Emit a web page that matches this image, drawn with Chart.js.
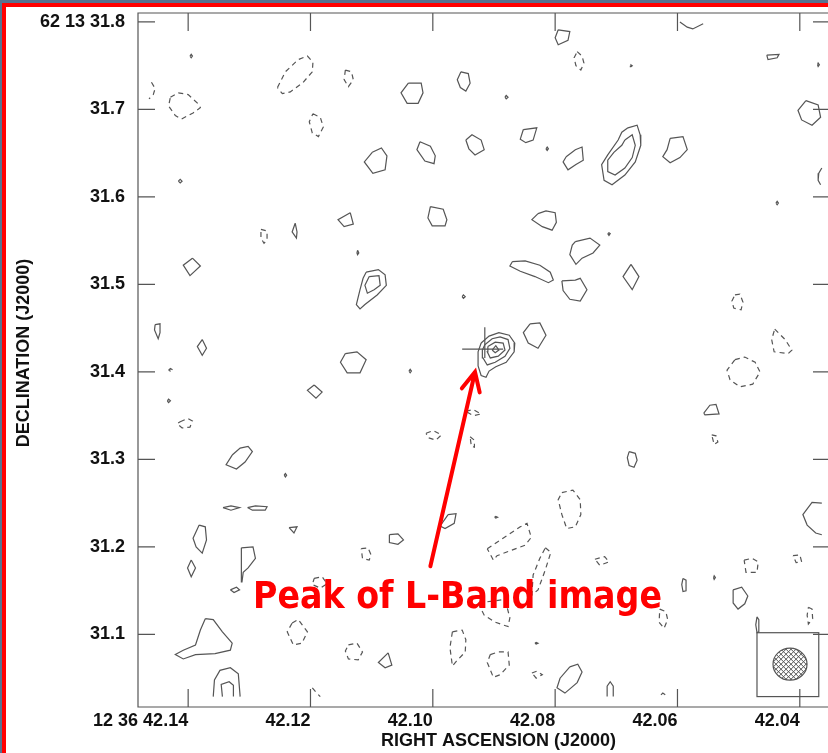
<!DOCTYPE html>
<html lang="en">

<head>
    <meta charset="UTF-8">
    <title>L-Band peak contour map</title>
    <style>
        body {
            margin: 0;
            overflow: hidden;
            background: #fff;
        }

        .frame {
            position: absolute;
            left: 0;
            top: 0;
            border-top: 3px solid #56728f;
            border-left: 2px solid #56728f;
        }

        .inner {
            border-top: 4px solid #ff0000;
            border-left: 4px solid #ff0000;
            width: 830px;
            height: 746px;
        }
    </style>
    <script src="https://cdn.jsdelivr.net/npm/chart.js"></script>
</head>

<body>
    <div class="frame">
        <div class="inner">
            <canvas id="map" width="830" height="746"></canvas>
        </div>
    </div>

    <script>
        // axes: RA in seconds of time (12h36m..), Dec in arcsec (62d13'..)
        const raMin = 42.0349, raMax = 42.1482;
        const decMin = 31.0171, decMax = 31.8102;
        const raTicks = [42.14, 42.12, 42.10, 42.08, 42.06, 42.04];
        const raTickLabels = ['12 36 42.14', '42.12', '42.10', '42.08', '42.06', '42.04'];
        const decTicks = [31.1, 31.2, 31.3, 31.4, 31.5, 31.6, 31.7, 31.8];
        const decTickLabels = ['31.1', '31.2', '31.3', '31.4', '31.5', '31.6', '31.7', '62 13 31.8'];
        const xTitle = 'RIGHT ASCENSION (J2000)';
        const yTitle = 'DECLINATION (J2000)';

        // positive contours, closed  [RA, Dec]
        const posContours = [
            [[42.1397,31.761],[42.1395,31.763],[42.1393,31.761],[42.1395,31.759]],
            [[42.1416,31.618],[42.1413,31.620],[42.1410,31.618],[42.1413,31.616]],
            [[42.1040,31.730],[42.1019,31.730],[42.1016,31.719],[42.1024,31.707],[42.1042,31.707],[42.1052,31.719]],
            [[42.0954,31.743],[42.0942,31.741],[42.0939,31.730],[42.0946,31.721],[42.0955,31.725],[42.0960,31.734]],
            [[42.0882,31.714],[42.0880,31.716],[42.0877,31.714],[42.0880,31.712]],
            [[42.1099,31.651],[42.1084,31.656],[42.1075,31.647],[42.1078,31.631],[42.1098,31.627],[42.1112,31.640]],
            [[42.1021,31.663],[42.1004,31.658],[42.0996,31.647],[42.0998,31.638],[42.1013,31.641],[42.1026,31.654]],
            [[42.0946,31.665],[42.0936,31.671],[42.0921,31.665],[42.0916,31.654],[42.0931,31.648],[42.0941,31.655]],
            [[42.0852,31.677],[42.0830,31.679],[42.0836,31.665],[42.0848,31.662],[42.0857,31.666]],
            [[42.0815,31.655],[42.0813,31.657],[42.0811,31.655],[42.0813,31.653]],
            [[42.0795,31.791],[42.0776,31.789],[42.0779,31.779],[42.0795,31.774],[42.0800,31.782]],
            [[42.0782,31.646],[42.0767,31.654],[42.0756,31.657],[42.0754,31.642],[42.0766,31.637],[42.0779,31.631],[42.0787,31.640]],
            [[42.0681,31.679],[42.0666,31.682],[42.0661,31.671],[42.0660,31.659],[42.0669,31.640],[42.0686,31.625],[42.0707,31.614],[42.0720,31.619],[42.0724,31.637],[42.0714,31.648],[42.0697,31.665],[42.0691,31.674]],
            [[42.0686,31.665],[42.0674,31.671],[42.0669,31.659],[42.0674,31.645],[42.0686,31.633],[42.0702,31.625],[42.0714,31.629],[42.0714,31.642],[42.0704,31.651],[42.0691,31.659]],
            [[42.0612,31.667],[42.0591,31.669],[42.0584,31.654],[42.0596,31.645],[42.0612,31.639],[42.0624,31.646],[42.0617,31.654]],
            [[42.1004,31.589],[42.0983,31.586],[42.0977,31.574],[42.0980,31.567],[42.1001,31.567],[42.1008,31.576]],
            [[42.0828,31.581],[42.0815,31.584],[42.0800,31.582],[42.0798,31.571],[42.0805,31.562],[42.0821,31.566],[42.0838,31.574]],
            [[42.0714,31.558],[42.0712,31.559],[42.0710,31.558],[42.0712,31.556]],
            [[42.0767,31.549],[42.0743,31.553],[42.0727,31.545],[42.0738,31.536],[42.0756,31.530],[42.0766,31.523],[42.0776,31.534],[42.0772,31.545]],
            [[42.0870,31.526],[42.0849,31.527],[42.0825,31.522],[42.0808,31.514],[42.0803,31.505],[42.0811,31.502],[42.0833,31.509],[42.0857,31.515],[42.0874,31.521]],
            [[42.0789,31.504],[42.0767,31.505],[42.0759,31.507],[42.0748,31.494],[42.0759,31.481],[42.0776,31.483],[42.0787,31.493]],
            [[42.0676,31.523],[42.0663,31.509],[42.0674,31.494],[42.0689,31.509]],
            [[42.0952,31.486],[42.0950,31.488],[42.0947,31.486],[42.0950,31.484]],
            [[42.1225,31.570],[42.1222,31.560],[42.1223,31.553],[42.1230,31.560]],
            [[42.1135,31.582],[42.1130,31.569],[42.1145,31.566],[42.1155,31.574]],
            [[42.1123,31.539],[42.1121,31.536],[42.1123,31.534],[42.1124,31.536]],
            [[42.1393,31.530],[42.1380,31.521],[42.1397,31.510],[42.1408,31.522]],
            [[42.1109,31.514],[42.1089,31.517],[42.1078,31.511],[42.1076,31.499],[42.1091,31.488],[42.1111,31.477],[42.1119,31.472],[42.1125,31.477],[42.1119,31.494],[42.1114,31.507]],
            [[42.1104,31.509],[42.1088,31.510],[42.1086,31.499],[42.1096,31.494],[42.1107,31.490],[42.1111,31.499]],
            [[42.1454,31.454],[42.1446,31.455],[42.1446,31.445],[42.1449,31.438],[42.1455,31.448]],
            [[42.1377,31.437],[42.1370,31.427],[42.1377,31.419],[42.1385,31.429]],
            [[42.1143,31.421],[42.1124,31.423],[42.1109,31.414],[42.1119,31.399],[42.1140,31.399],[42.1151,31.411]],
            [[42.1194,31.385],[42.1181,31.377],[42.1191,31.370],[42.1205,31.379]],
            [[42.1434,31.367],[42.1432,31.369],[42.1429,31.367],[42.1432,31.365]],
            [[42.1328,31.305],[42.1315,31.313],[42.1302,31.315],[42.1295,31.309],[42.1307,31.297],[42.1321,31.289],[42.1338,31.294]],
            [[42.1243,31.282],[42.1241,31.284],[42.1239,31.282],[42.1241,31.280]],
            [[42.1343,31.245],[42.1330,31.247],[42.1316,31.245],[42.1330,31.242]],
            [[42.1303,31.245],[42.1290,31.247],[42.1271,31.246],[42.1274,31.242],[42.1295,31.242]],
            [[42.1235,31.222],[42.1222,31.223],[42.1227,31.216]],
            [[42.1382,31.225],[42.1372,31.223],[42.1370,31.208],[42.1377,31.193],[42.1387,31.200],[42.1392,31.210]],
            [[42.1313,31.199],[42.1294,31.200],[42.1290,31.187],[42.1302,31.176],[42.1310,31.171],[42.1312,31.160]],
            [[42.1395,31.185],[42.1388,31.176],[42.1395,31.166],[42.1401,31.176]],
            [[42.1331,31.151],[42.1321,31.154],[42.1316,31.151],[42.1325,31.148]],
            [[42.1071,31.214],[42.1057,31.215],[42.1048,31.208],[42.1057,31.203],[42.1071,31.205]],
            [[42.1372,31.118],[42.1359,31.117],[42.1344,31.103],[42.1328,31.090],[42.1331,31.082],[42.1356,31.078],[42.1388,31.077],[42.1408,31.072],[42.1421,31.077],[42.1408,31.082],[42.1388,31.088],[42.1380,31.105]],
            [[42.1073,31.079],[42.1067,31.065],[42.1078,31.062],[42.1089,31.068]],
            // the L-band peak
            [[42.0921,31.433],[42.0908,31.441],[42.0892,31.445],[42.0875,31.442],[42.0866,31.433],[42.0867,31.423],[42.0880,31.411],[42.0897,31.406],[42.0908,31.401],[42.0913,31.394],[42.0921,31.396],[42.0926,31.407],[42.0926,31.423]],
            [[42.0915,31.431],[42.0903,31.438],[42.0890,31.440],[42.0877,31.437],[42.0874,31.427],[42.0882,31.418],[42.0898,31.411],[42.0911,31.408],[42.0918,31.416],[42.0919,31.425]],
            [[42.0910,31.429],[42.0898,31.434],[42.0885,31.433],[42.0882,31.425],[42.0893,31.418],[42.0906,31.416],[42.0911,31.423]],
            [[42.0903,31.425],[42.0897,31.430],[42.0892,31.425],[42.0898,31.422]],
            [[42.0841,31.455],[42.0825,31.456],[42.0815,31.442],[42.0828,31.427],[42.0844,31.433],[42.0852,31.445]],
            [[42.1039,31.401],[42.1037,31.403],[42.1035,31.401],[42.1037,31.399]],
            [[42.0679,31.309],[42.0669,31.307],[42.0666,31.299],[42.0671,31.291],[42.0679,31.293],[42.0682,31.302]],
            [[42.0975,31.237],[42.0962,31.238],[42.0965,31.227],[42.0980,31.221],[42.0988,31.224]],
            [[42.0899,31.234],[42.0897,31.235],[42.0894,31.234],[42.0897,31.233]],
            [[42.0591,31.164],[42.0586,31.162],[42.0586,31.150],[42.0591,31.149],[42.0593,31.157]],
            [[42.0541,31.165],[42.0540,31.167],[42.0538,31.165],[42.0540,31.163]],
            [[42.0776,31.063],[42.0763,31.066],[42.0756,31.057],[42.0764,31.045],[42.0784,31.033],[42.0797,31.039],[42.0792,31.050]],
            [[42.0833,31.090],[42.0831,31.091],[42.0828,31.090],[42.0831,31.089]],
            [[42.0557,31.353],[42.0547,31.362],[42.0537,31.363],[42.0532,31.352],[42.0555,31.351]],
            [[42.0439,31.593],[42.0437,31.595],[42.0435,31.593],[42.0437,31.591]],
            [[42.0509,31.151],[42.0495,31.154],[42.0485,31.144],[42.0490,31.135],[42.0501,31.129],[42.0509,31.136]],
            [[42.0454,31.762],[42.0434,31.763],[42.0437,31.759],[42.0452,31.757]],
            [[42.0371,31.751],[42.0370,31.753],[42.0368,31.751],[42.0370,31.749]],
            [[42.0677,31.750],[42.0676,31.751],[42.0674,31.750],[42.0676,31.749]],
            [[42.0390,31.710],[42.0370,31.705],[42.0366,31.691],[42.0380,31.682],[42.0397,31.688],[42.0403,31.699]],
            [[42.0470,31.120],[42.0467,31.117],[42.0467,31.103],[42.0470,31.102],[42.0472,31.111]]
        ];

        // positive contours cut by the image edge (open)
        const posEdges = [
            [[42.0596,31.800],[42.0584,31.794],[42.0575,31.792],[42.0558,31.798]],
            [[42.0364,31.250],[42.0380,31.251],[42.0395,31.237],[42.0388,31.225],[42.0374,31.216],[42.0364,31.214]],
            [[42.0364,31.633],[42.0369,31.627],[42.0370,31.619],[42.0366,31.614]],
            [[42.1359,31.029],[42.1357,31.048],[42.1348,31.059],[42.1331,31.062],[42.1318,31.055],[42.1315,31.029]],
            [[42.1344,31.029],[42.1346,31.043],[42.1333,31.046],[42.1326,31.042],[42.1326,31.029]],
            [[42.0715,31.029],[42.0715,31.041],[42.0710,31.046],[42.0705,31.041],[42.0705,31.029]],
            [[42.0627,31.031],[42.0624,31.033],[42.0620,31.031]]
        ];

        // negative contours, closed (dashed)
        const negContours = [
            [[42.1429,31.714],[42.1416,31.719],[42.1400,31.717],[42.1383,31.706],[42.1380,31.702],[42.1392,31.696],[42.1411,31.689],[42.1421,31.693],[42.1432,31.704]],
            [[42.1254,31.725],[42.1241,31.743],[42.1220,31.757],[42.1205,31.761],[42.1196,31.754],[42.1197,31.743],[42.1212,31.731],[42.1233,31.720],[42.1246,31.718]],
            [[42.1143,31.745],[42.1133,31.743],[42.1130,31.734],[42.1138,31.726],[42.1145,31.734]],
            [[42.1196,31.695],[42.1184,31.691],[42.1179,31.680],[42.1187,31.669],[42.1197,31.673],[42.1202,31.686]],
            [[42.0764,31.766],[42.0756,31.761],[42.0753,31.753],[42.0758,31.745],[42.0766,31.750],[42.0769,31.759]],
            [[42.1281,31.563],[42.1271,31.561],[42.1271,31.551],[42.1276,31.547],[42.1281,31.553]],
            [[42.1432,31.402],[42.1429,31.404],[42.1424,31.402],[42.1429,31.401]],
            [[42.1413,31.343],[42.1401,31.347],[42.1393,31.344],[42.1397,31.337],[42.1410,31.336],[42.1418,31.341]],
            [[42.1117,31.198],[42.1106,31.199],[42.1101,31.191],[42.1104,31.185],[42.1115,31.187]],
            [[42.1194,31.164],[42.1181,31.166],[42.1173,31.158],[42.1184,31.153],[42.1197,31.157]],
            [[42.1230,31.113],[42.1220,31.117],[42.1205,31.103],[42.1214,31.090],[42.1228,31.088],[42.1238,31.103]],
            [[42.1138,31.088],[42.1124,31.090],[42.1115,31.080],[42.1122,31.071],[42.1138,31.072],[42.1143,31.081]],
            [[42.1011,31.330],[42.0999,31.333],[42.0986,31.328],[42.0995,31.322],[42.1008,31.325]],
            [[42.0946,31.355],[42.0934,31.357],[42.0921,31.352],[42.0934,31.350]],
            [[42.0939,31.326],[42.0932,31.322],[42.0932,31.314],[42.0937,31.315]],
            [[42.0789,31.262],[42.0771,31.265],[42.0759,31.254],[42.0758,31.237],[42.0767,31.223],[42.0781,31.221],[42.0789,31.237],[42.0795,31.254]],
            [[42.0911,31.198],[42.0857,31.223],[42.0846,31.227],[42.0839,31.211],[42.0849,31.202],[42.0895,31.190],[42.0901,31.185]],
            [[42.0816,31.199],[42.0807,31.194],[42.0816,31.174],[42.0828,31.151],[42.0838,31.145],[42.0836,31.168],[42.0825,31.187]],
            [[42.0735,31.186],[42.0719,31.189],[42.0712,31.183],[42.0727,31.179]],
            [[42.0926,31.136],[42.0916,31.122],[42.0898,31.114],[42.0877,31.109],[42.0874,31.119],[42.0882,31.140]],
            [[42.0629,31.129],[42.0619,31.126],[42.0616,31.117],[42.0622,31.107],[42.0630,31.114]],
            [[42.0968,31.103],[42.0952,31.105],[42.0946,31.094],[42.0947,31.080],[42.0962,31.069],[42.0968,31.064],[42.0972,31.085]],
            [[42.0906,31.077],[42.0893,31.080],[42.0877,31.080],[42.0875,31.065],[42.0890,31.054],[42.0901,31.051],[42.0911,31.068]],
            [[42.0838,31.056],[42.0830,31.058],[42.0821,31.054],[42.0831,31.050]],
            [[42.0506,31.488],[42.0498,31.489],[42.0493,31.480],[42.0496,31.471],[42.0508,31.473],[42.0511,31.481]],
            [[42.0441,31.449],[42.0424,31.437],[42.0413,31.425],[42.0419,31.421],[42.0442,31.423],[42.0446,31.437]],
            [[42.0506,31.414],[42.0490,31.417],[42.0473,31.411],[42.0465,31.400],[42.0477,31.386],[42.0498,31.383],[42.0514,31.391],[42.0519,31.402]],
            [[42.0544,31.328],[42.0537,31.327],[42.0534,31.320],[42.0540,31.317]],
            [[42.0491,31.185],[42.0478,31.187],[42.0468,31.183],[42.0470,31.171],[42.0488,31.171]],
            [[42.0411,31.190],[42.0400,31.191],[42.0397,31.183],[42.0406,31.182]],
            [[42.0386,31.131],[42.0380,31.129],[42.0379,31.118],[42.0386,31.112],[42.0388,31.122]]
        ];

        // negative contours cut by the image edge (open)
        const negEdges = [
            [[42.1460,31.731],[42.1454,31.724],[42.1457,31.717],[42.1464,31.712]],
            [[42.1197,31.039],[42.1191,31.034],[42.1184,31.029]]
        ];

        // position cross, beam, annotation
        const crossH = [[42.0952, 31.426], [42.0885, 31.426]];
        const crossV = [[42.0915, 31.451], [42.0915, 31.416]];
        const beam = { ra: 42.0416, dec: 31.066, halfRA: 0.00278, halfDec: 0.0183 };
        const beamBox = { raLeft: 42.0470, raRight: 42.0369, decTop: 31.102, decBottom: 31.029 };
        const arrowTip = [42.0931, 31.400];
        const arrowTail = [42.1004, 31.178];
        const peakLabel = 'Peak of L-Band image';
        const peakLabelAt = [42.1294, 31.130];

        const lineColor = '#555';

        function toPoints(c, closed) {
            const p = c.map(([x, y]) => ({ x: x, y: y }));
            if (closed) p.push({ x: c[0][0], y: c[0][1] });
            return p;
        }

        function contour(c, closed, dash) {
            return {
                data: toPoints(c, closed),
                showLine: true,
                borderColor: lineColor,
                borderWidth: 1.2,
                borderDash: dash,
                pointRadius: 0,
                fill: false,
                tension: 0
            };
        }

        const datasets = [];
        posContours.forEach(c => datasets.push(contour(c, true, [])));
        posEdges.forEach(c => datasets.push(contour(c, false, [])));
        negContours.forEach(c => datasets.push(contour(c, true, [5, 4])));
        negEdges.forEach(c => datasets.push(contour(c, false, [5, 4])));
        datasets.push(contour(crossH, false, []));
        datasets.push(contour(crossV, false, []));

        // inward tick marks and the frame
        const frameTicks = {
            id: 'frameTicks',
            afterDraw(chart) {
                const { ctx, chartArea: a, scales: { x, y } } = chart;
                ctx.save();
                ctx.strokeStyle = lineColor;
                ctx.lineWidth = 1.2;
                ctx.beginPath();
                x.ticks.forEach(t => {
                    const px = x.getPixelForValue(t.value);
                    ctx.moveTo(px, a.bottom); ctx.lineTo(px, a.bottom - 18);
                    ctx.moveTo(px, a.top); ctx.lineTo(px, a.top + 18);
                });
                y.ticks.forEach(t => {
                    const py = y.getPixelForValue(t.value);
                    ctx.moveTo(a.left, py); ctx.lineTo(a.left + 17, py);
                    ctx.moveTo(a.right, py); ctx.lineTo(a.right - 18, py);
                });
                ctx.rect(a.left, a.top, a.right - a.left, a.bottom - a.top);
                ctx.stroke();

                // axis titles
                ctx.fillStyle = '#111';
                ctx.font = 'bold 18px "Liberation Sans", Arial, sans-serif';
                ctx.textAlign = 'center';
                ctx.textBaseline = 'alphabetic';
                ctx.fillText(xTitle, (a.left + a.right) / 2 + 14, chart.height - 7);
                ctx.translate(23, (a.top + a.bottom) / 2 - 7);
                ctx.rotate(-Math.PI / 2);
                ctx.fillText(yTitle, 0, 0);
                ctx.restore();
            }
        };

        // restoring beam in its box
        const beamPlot = {
            id: 'beamPlot',
            afterDatasetsDraw(chart) {
                const { ctx, scales: { x, y } } = chart;
                const bx0 = x.getPixelForValue(beamBox.raLeft), bx1 = x.getPixelForValue(beamBox.raRight);
                const by0 = y.getPixelForValue(beamBox.decTop), by1 = y.getPixelForValue(beamBox.decBottom);
                const cx = x.getPixelForValue(beam.ra), cy = y.getPixelForValue(beam.dec);
                const rx = Math.abs(x.getPixelForValue(beam.ra + beam.halfRA) - cx);
                const ry = Math.abs(y.getPixelForValue(beam.dec + beam.halfDec) - cy);
                ctx.save();
                ctx.strokeStyle = lineColor;
                ctx.lineWidth = 1.2;
                ctx.strokeRect(bx0, by0, bx1 - bx0, by1 - by0);
                ctx.beginPath();
                ctx.ellipse(cx, cy, rx, ry, 0, 0, Math.PI * 2);
                ctx.stroke();
                ctx.clip();
                ctx.lineWidth = 1;
                ctx.beginPath();
                for (let d = -2 * rx; d <= 2 * rx; d += 5) {
                    ctx.moveTo(cx + d - ry, cy - ry); ctx.lineTo(cx + d + ry, cy + ry);
                    ctx.moveTo(cx + d + ry, cy - ry); ctx.lineTo(cx + d - ry, cy + ry);
                }
                ctx.stroke();
                ctx.restore();
            }
        };

        // red arrow and label
        const peakNote = {
            id: 'peakNote',
            afterDraw(chart) {
                const { ctx, scales: { x, y } } = chart;
                const tx = x.getPixelForValue(arrowTip[0]), ty = y.getPixelForValue(arrowTip[1]);
                const sx = x.getPixelForValue(arrowTail[0]), sy = y.getPixelForValue(arrowTail[1]);
                const ang = Math.atan2(ty - sy, tx - sx);
                const wing = 21, spread = 0.45;
                ctx.save();
                ctx.strokeStyle = '#ff0000';
                ctx.fillStyle = '#ff0000';
                ctx.lineWidth = 4;
                ctx.lineCap = 'round';
                ctx.beginPath();
                ctx.moveTo(sx, sy); ctx.lineTo(tx, ty);
                ctx.moveTo(tx - wing * Math.cos(ang - spread), ty - wing * Math.sin(ang - spread));
                ctx.lineTo(tx, ty);
                ctx.lineTo(tx - wing * Math.cos(ang + spread), ty - wing * Math.sin(ang + spread));
                ctx.stroke();
                ctx.font = 'bold 37px "DejaVu Sans Condensed", "DejaVu Sans", sans-serif';
                ctx.textAlign = 'left';
                ctx.textBaseline = 'alphabetic';
                ctx.fillText(peakLabel, x.getPixelForValue(peakLabelAt[0]), y.getPixelForValue(peakLabelAt[1]));
                ctx.restore();
            }
        };

        const tickFont = { family: '"Liberation Sans", Arial, sans-serif', size: 18, weight: 'bold' };

        new Chart(document.getElementById('map'), {
            type: 'scatter',
            data: { datasets: datasets },
            options: {
                responsive: false,
                animation: false,
                devicePixelRatio: 1,
                layout: { padding: { top: 6, right: 5, left: 0, bottom: 0 } },
                plugins: { legend: { display: false }, tooltip: { enabled: false } },
                scales: {
                    x: {
                        type: 'linear',
                        position: 'bottom',
                        reverse: true,
                        min: raMin,
                        max: raMax,
                        grid: { display: false, drawTicks: false },
                        border: { display: false },
                        afterBuildTicks: s => { s.ticks = raTicks.map(v => ({ value: v })); },
                        afterFit: s => { s.height = 46; s.paddingLeft = 0; s.paddingRight = 0; },
                        ticks: {
                            autoSkip: false,
                            maxRotation: 0,
                            align: 'end',
                            padding: 3,
                            color: '#111',
                            font: tickFont,
                            callback: (v, i) => raTickLabels[i]
                        }
                    },
                    y: {
                        type: 'linear',
                        position: 'left',
                        min: decMin,
                        max: decMax,
                        grid: { display: false, drawTicks: false },
                        border: { display: false },
                        afterBuildTicks: s => { s.ticks = decTicks.map(v => ({ value: v })); },
                        afterFit: s => { s.width = 132; s.paddingTop = 0; s.paddingBottom = 0; },
                        ticks: {
                            autoSkip: false,
                            padding: 13,
                            color: '#111',
                            font: tickFont,
                            callback: (v, i) => decTickLabels[i]
                        }
                    }
                }
            },
            plugins: [frameTicks, beamPlot, peakNote]
        });
    </script>
</body>

</html>
